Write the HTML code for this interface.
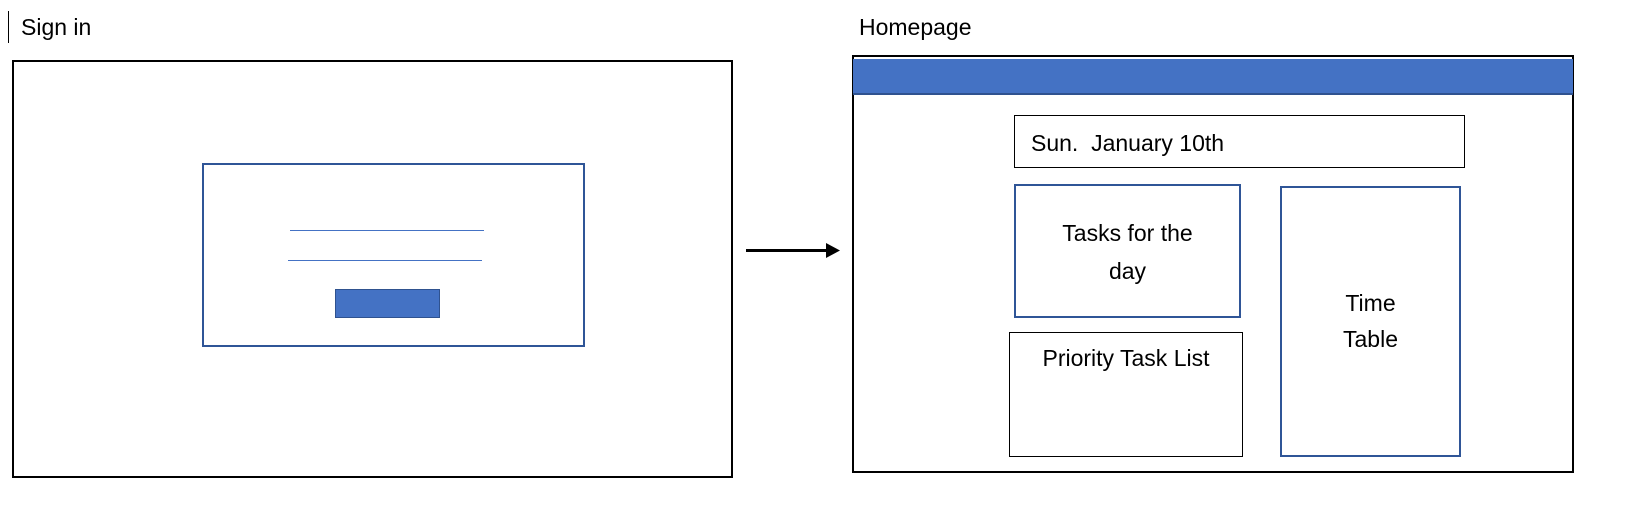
<!DOCTYPE html>
<html><head><meta charset="utf-8"><style>
body{margin:0;width:1642px;height:528px;background:#fff;position:relative;overflow:hidden;font-family:"Liberation Sans",sans-serif;color:#000}
div{position:absolute;box-sizing:border-box}
.t{font-size:23px;white-space:nowrap;line-height:1}
.c{text-align:center}
</style></head><body>
<div style="left:8px;top:11px;width:1px;height:32px;background:#000"></div>
<div class="t" style="left:21px;top:16px">Sign in</div>
<div class="t" style="left:859px;top:16px">Homepage</div>

<div style="left:12px;top:60px;width:721px;height:418px;border:2px solid #000"></div>
<div style="left:202px;top:163px;width:383px;height:184px;border:2px solid #2F5597"></div>
<div style="left:290px;top:230px;width:194px;height:1px;background:#4472C4"></div>
<div style="left:288px;top:260px;width:194px;height:1px;background:#4472C4"></div>
<div style="left:335px;top:289px;width:105px;height:29px;background:#4472C4;border:1px solid #2F528F"></div>

<div style="left:746px;top:249px;width:86px;height:3px;background:#000"></div>
<svg style="position:absolute;left:826px;top:243px" width="16" height="15"><polygon points="0,0 14,7.5 0,15" fill="#000"/></svg>

<div style="left:852px;top:55px;width:722px;height:418px;border:2px solid #000"></div>
<div style="left:853px;top:59px;width:720px;height:36px;background:#4472C4;border-bottom:2px solid #2F528F"></div>
<div style="left:1014px;top:115px;width:451px;height:53px;border:1.5px solid #000"></div>
<div class="t" style="left:1031px;top:132px">Sun.&nbsp; January 10th</div>
<div style="left:1014px;top:184px;width:227px;height:134px;border:2px solid #2F5597"></div>
<div class="t c" style="left:1014px;top:222px;width:227px">Tasks for the</div>
<div class="t c" style="left:1014px;top:260px;width:227px">day</div>
<div style="left:1280px;top:186px;width:181px;height:271px;border:2px solid #2F5597"></div>
<div class="t c" style="left:1280px;top:292px;width:181px">Time</div>
<div class="t c" style="left:1280px;top:328px;width:181px">Table</div>
<div style="left:1009px;top:332px;width:234px;height:125px;border:1px solid #000"></div>
<div class="t c" style="left:1009px;top:347px;width:234px">Priority Task List</div>
</body></html>
